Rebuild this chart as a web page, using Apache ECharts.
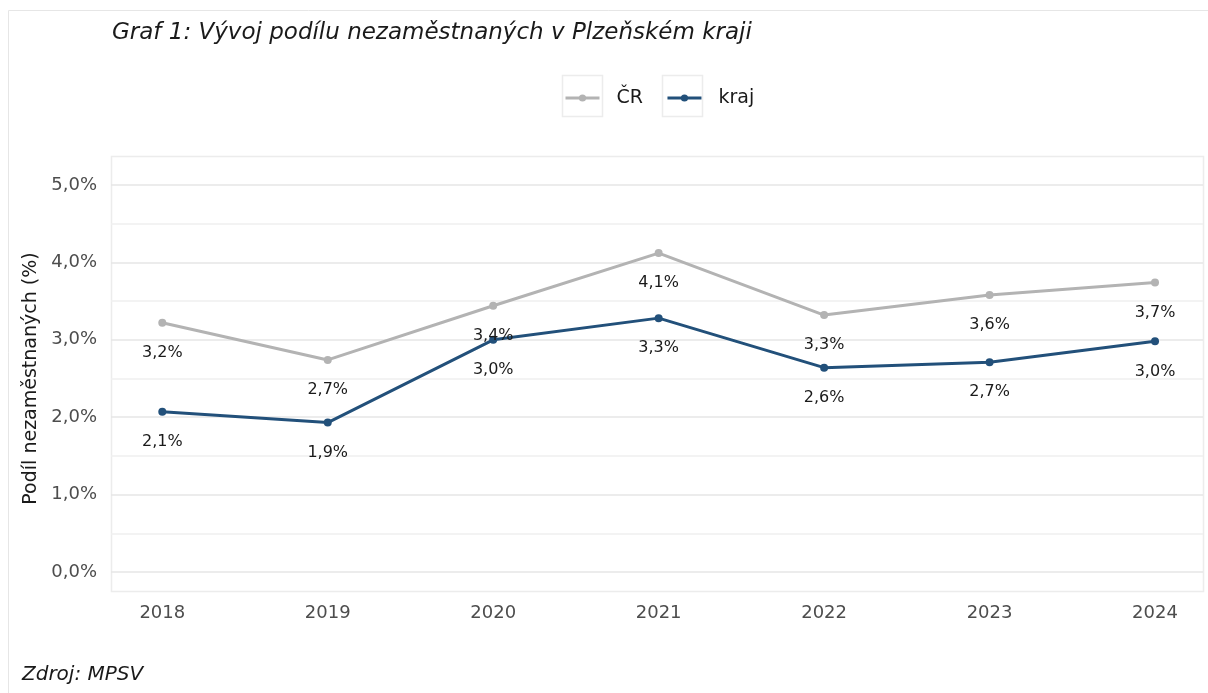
<!DOCTYPE html>
<html>
<head>
<meta charset="utf-8">
<script src="https://cdn.jsdelivr.net/npm/echarts@6/dist/echarts.min.js"></script>
<style>
  html, body { margin: 0; padding: 0; background: #fff; }
  #chart { width: 1208px; height: 693px; }
</style>
</head>
<body>
<div id="chart"></div>
<script>
// data
var years = [2018, 2019, 2020, 2021, 2022, 2023, 2024];
var crValues = [3.22, 2.74, 3.44, 4.12, 3.32, 3.58, 3.74];
var krajValues = [2.07, 1.93, 3.00, 3.28, 2.64, 2.71, 2.98];
var yTicks = [0, 1, 2, 3, 4, 5];

function pct(v) {
  return v.toFixed(1).replace('.', ',') + '%';
}
function pairs(vals) {
  return years.map(function (y, i) { return [y, vals[i]]; });
}

var FONT = 'DejaVu Sans';
var chart = echarts.init(document.getElementById('chart'));

var labelStyle = {
  show: true,
  position: 'bottom',
  distance: 18,
  fontFamily: FONT,
  fontSize: 16,
  color: '#1a1a1a',
  formatter: function (p) { return pct(p.value[1]); }
};

chart.setOption({
  animation: false,
  textStyle: { fontFamily: FONT },
  title: {
    text: 'Graf 1: Vývoj podílu nezaměstnaných v Plzeňském kraji',
    left: 112,
    top: 22,
    padding: 0,
    textStyle: { fontFamily: FONT, fontSize: 23, fontStyle: 'italic', fontWeight: 'normal', color: '#1a1a1a' }
  },
  legend: {
    left: 564,
    top: 86,
    padding: 0,
    itemWidth: 34,
    itemHeight: 9,
    itemGap: 23,
    data: ['ČR', 'kraj'],
    lineStyle: { width: 3 },
    textStyle: { fontFamily: FONT, fontSize: 19, color: '#1a1a1a', lineHeight: 24, padding: [0, 0, 0, 12] }
  },
  graphic: [
    // outer frame
    { type: 'rect', z: -10, shape: { x: 8.5, y: 10.5, width: 1300, height: 800 },
      style: { fill: '#fff', stroke: '#e6e6e6', lineWidth: 1 } },
    // panel frame
    { type: 'rect', z: -5, shape: { x: 111.5, y: 156.5, width: 1092, height: 435 },
      style: { fill: '#fff', stroke: '#ececec', lineWidth: 1.5 } },
    // legend key boxes
    { type: 'rect', z: -5, shape: { x: 562.5, y: 75.5, width: 40, height: 41 },
      style: { fill: '#fff', stroke: '#ececec', lineWidth: 1.5 } },
    { type: 'rect', z: -5, shape: { x: 662.5, y: 75.5, width: 40, height: 41 },
      style: { fill: '#fff', stroke: '#ececec', lineWidth: 1.5 } },
    { type: 'text', left: 22, top: 665,
      style: { text: 'Zdroj: MPSV', fontSize: 20, fontStyle: 'italic', fill: '#1a1a1a', fontFamily: FONT } }
  ],
  grid: { left: 111, right: 5, top: 185, bottom: 121, containLabel: false, outerBoundsMode: 'none' },
  xAxis: {
    type: 'value',
    min: 2017.69,
    max: 2024.29,
    axisLine: { show: false },
    axisTick: { show: false },
    splitLine: { show: false },
    axisLabel: {
      customValues: years,
      margin: 32,
      fontSize: 18,
      color: '#4d4d4d',
      formatter: function (v) { return String(v); }
    }
  },
  yAxis: {
    type: 'value',
    min: 0,
    max: 5,
    interval: 1,
    name: 'Podíl nezaměstnaných (%)',
    nameLocation: 'middle',
    nameGap: 68,
    nameTextStyle: { fontSize: 19, color: '#1a1a1a' },
    axisLine: { show: false },
    axisTick: { show: false },
    axisLabel: {
      margin: 14,
      fontSize: 18,
      color: '#4d4d4d',
      formatter: function (v) { return yTicks.indexOf(v) >= 0 ? pct(v) : ''; }
    },
    splitLine: { lineStyle: { color: '#e6e6e6', width: 1.5 } },
    minorTick: { show: false, splitNumber: 2 },
    minorSplitLine: { show: true, lineStyle: { color: '#efefef', width: 1.5 } }
  },
  series: [
    {
      name: 'ČR',
      type: 'line',
      data: pairs(crValues),
      color: '#b3b3b3',
      symbol: 'circle',
      symbolSize: 8,
      lineStyle: { width: 3 },
      label: labelStyle
    },
    {
      name: 'kraj',
      type: 'line',
      data: pairs(krajValues),
      color: '#22507a',
      symbol: 'circle',
      symbolSize: 8,
      lineStyle: { width: 3 },
      label: labelStyle
    }
  ]
});
</script>
</body>
</html>
